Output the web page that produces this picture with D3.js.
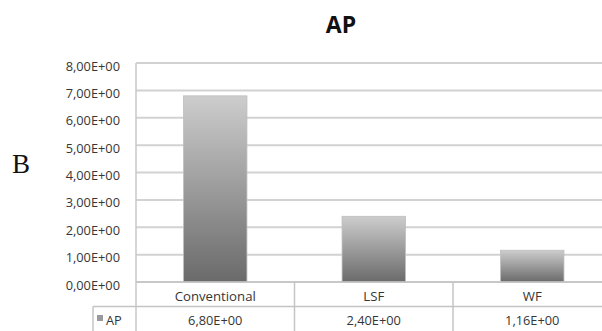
<!DOCTYPE html>
<html>
<head>
<meta charset="utf-8">
<script src="https://cdn.jsdelivr.net/npm/d3@7"></script>
<style>
  html, body { margin: 0; padding: 0; background: #fff; }
  svg { display: block; }
  text { font-family: "Open Sans", "DejaVu Sans", sans-serif; }
</style>
</head>
<body>
<svg id="chart" width="602" height="331"></svg>
<script>
// AP values per production method
const categories = ["Conventional", "LSF", "WF"];
const seriesName = "AP";
const apValues = [6.80, 2.40, 1.16];
const valueLabels = ["6,80E+00", "2,40E+00", "1,16E+00"];
const yTicks = [0, 1, 2, 3, 4, 5, 6, 7, 8];
const yTickLabels = ["0,00E+00", "1,00E+00", "2,00E+00", "3,00E+00", "4,00E+00",
                     "5,00E+00", "6,00E+00", "7,00E+00", "8,00E+00"];

const svg = d3.select("#chart");
const W = 602, H = 331;
const plot = { left: 136, top: 63, bottom: 282 };
const colW = 158.5;
const rowH = 24.5;
const textColor = "#363636";

const x = d3.scaleBand()
  .domain(categories)
  .range([plot.left, plot.left + colW * categories.length])
  .paddingInner(0.6)
  .paddingOuter(0.3);
const xCol = d3.scaleBand().domain(categories)
  .range([plot.left, plot.left + colW * categories.length]);
const y = d3.scaleLinear().domain([0, 8]).range([plot.bottom, plot.top]);

// bar fill: light at top, dark at bottom
const defs = svg.append("defs");
const grad = defs.append("linearGradient")
  .attr("id", "barGrad").attr("x1", 0).attr("y1", 0).attr("x2", 0).attr("y2", 1);
grad.append("stop").attr("offset", "0%").attr("stop-color", "#cdcdcd");
grad.append("stop").attr("offset", "100%").attr("stop-color", "#6a6a6a");

// title and panel letter
svg.append("text")
  .attr("x", 341).attr("y", 33)
  .attr("text-anchor", "middle")
  .attr("font-size", 23).attr("font-weight", "bold").attr("fill", "#111")
  .text(seriesName);
svg.append("text")
  .attr("x", 12).attr("y", 173)
  .style("font-family", "'Liberation Serif', 'DejaVu Serif', serif")
  .attr("font-size", 27).attr("fill", "#111")
  .text("B");

// gridlines
svg.append("g").selectAll("line").data(yTicks).join("line")
  .attr("x1", plot.left).attr("x2", W)
  .attr("y1", d => y(d)).attr("y2", d => y(d))
  .attr("stroke", "#d2d2d2").attr("stroke-width", 2);

// y axis tick labels
const yAxis = d3.axisLeft(y)
  .tickValues(yTicks)
  .tickSize(0)
  .tickPadding(16)
  .tickFormat((d, i) => yTickLabels[i]);
const gy = svg.append("g").attr("transform", `translate(${plot.left},0)`).call(yAxis);
gy.select(".domain").remove();
gy.selectAll("text")
  .attr("font-size", 12.8).attr("fill", textColor)
  .style("font-family", "'Open Sans', sans-serif")
  .attr("dy", "0.55em");

// plot area left edge
svg.append("line")
  .attr("x1", plot.left).attr("x2", plot.left)
  .attr("y1", plot.top).attr("y2", H)
  .attr("stroke", "#c8c8c8").attr("stroke-width", 1.5);

// bars
svg.append("g").selectAll("rect").data(apValues).join("rect")
  .attr("x", (d, i) => x(categories[i]))
  .attr("width", x.bandwidth())
  .attr("y", d => y(d))
  .attr("height", d => y(0) - y(d))
  .attr("fill", "url(#barGrad)")
  .attr("stroke", "#bdbdbd").attr("stroke-width", 0.8);

// data table under the axis
const table = svg.append("g");
const tableLine = "#c4c4c4";
table.append("line")
  .attr("x1", plot.left).attr("x2", W)
  .attr("y1", plot.bottom).attr("y2", plot.bottom)
  .attr("stroke", tableLine).attr("stroke-width", 1.5);
table.append("line")
  .attr("x1", 93).attr("x2", W)
  .attr("y1", plot.bottom + rowH).attr("y2", plot.bottom + rowH)
  .attr("stroke", tableLine).attr("stroke-width", 1.5);
table.append("line")
  .attr("x1", 93).attr("x2", 93)
  .attr("y1", plot.bottom + rowH).attr("y2", H)
  .attr("stroke", tableLine).attr("stroke-width", 1.5);
table.selectAll("line.col").data(categories.slice(1)).join("line")
  .attr("class", "col")
  .attr("x1", d => xCol(d)).attr("x2", d => xCol(d))
  .attr("y1", plot.bottom).attr("y2", H)
  .attr("stroke", tableLine).attr("stroke-width", 1.5);

// category row
table.selectAll("text.cat").data(categories).join("text")
  .attr("class", "cat")
  .attr("x", d => xCol(d) + xCol.bandwidth() / 2)
  .attr("y", 300.5)
  .attr("text-anchor", "middle")
  .attr("font-size", 13.2).attr("fill", textColor)
  .text(d => d);

// value row
table.selectAll("text.val").data(valueLabels).join("text")
  .attr("class", "val")
  .attr("x", (d, i) => xCol(categories[i]) + xCol.bandwidth() / 2)
  .attr("y", 325)
  .attr("text-anchor", "middle")
  .attr("font-size", 12.8).attr("fill", textColor)
  .text(d => d);

// legend key
table.append("rect")
  .attr("x", 97).attr("y", 315).attr("width", 6).attr("height", 6)
  .attr("fill", "#9a9a9a");
table.append("text")
  .attr("x", 106).attr("y", 324.5)
  .attr("font-size", 12.8).attr("fill", textColor)
  .text(seriesName);
</script>
</body>
</html>
